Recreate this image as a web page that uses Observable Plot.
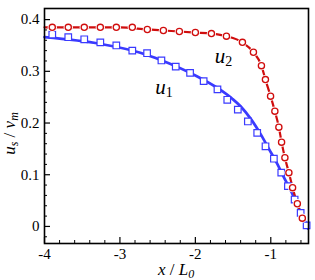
<!DOCTYPE html>
<html><head><meta charset="utf-8">
<script src="https://cdn.jsdelivr.net/npm/d3@7"></script>
<script src="https://cdn.jsdelivr.net/npm/@observablehq/plot@0.6"></script>
<style>
body{margin:0;background:#fff} svg{display:block}
svg text, svg tspan { font-family: "Liberation Serif", "Times New Roman", serif !important; }
</style>
</head><body><div id="chart"></div>
<script>
// tick values
const xTicks = [-4, -3, -2, -1];
const yTicks = [0, 0.1, 0.2, 0.3, 0.4];
const xMinor = [-3.8,-3.6,-3.4,-3.2,-2.8,-2.6,-2.4,-2.2,-1.8,-1.6,-1.4,-1.2,-0.8,-0.6];
const yMinor = [-0.02,0.02,0.04,0.06,0.08,0.12,0.14,0.16,0.18,0.22,0.24,0.26,0.28,0.32,0.34,0.36,0.38];

// u2 (red circles) markers
const u2X = [-3.897,-3.685,-3.473,-3.26,-3.048,-2.836,-2.637,-2.424,-2.212,-2.0,-1.787,-1.588,-1.376,-1.23,-1.124,-1.071,-1.003,-0.946,-0.893,-0.857,-0.813,-0.76,-0.711,-0.648,-0.582];
const u2Y = [0.385,0.385,0.385,0.385,0.385,0.385,0.381,0.379,0.377,0.375,0.373,0.368,0.356,0.337,0.311,0.284,0.252,0.223,0.192,0.163,0.133,0.104,0.075,0.044,0.016];
// u2 fitted line
const u2LineX = [-4,-3.5,-3.0,-2.637,-2.424,-2.212,-2.0,-1.787,-1.588,-1.376,-1.23,-1.124,-1.071,-1.003,-0.946,-0.893,-0.857,-0.813,-0.76,-0.711,-0.648,-0.582,-0.565];
const u2LineY = [0.385,0.385,0.385,0.381,0.379,0.377,0.375,0.373,0.368,0.356,0.337,0.311,0.284,0.252,0.223,0.192,0.163,0.133,0.104,0.075,0.044,0.016,0.008];

// u1 (blue squares) markers
const u1X = [-3.897,-3.685,-3.473,-3.26,-3.048,-2.836,-2.64,-2.45,-2.26,-2.07,-1.89,-1.707,-1.577,-1.437,-1.304,-1.18,-1.07,-0.959,-0.861,-0.773,-0.684,-0.604,-0.525];
const u1Y = [0.371,0.366,0.362,0.356,0.350,0.340,0.335,0.321,0.309,0.297,0.281,0.265,0.245,0.226,0.203,0.181,0.155,0.131,0.104,0.078,0.052,0.026,0.002];
// u1 fitted line
const u1LineX = [-4,-3.26,-2.73,-2.46,-2.0,-1.667,-1.511,-1.398,-1.265,-1.133,-1.025,-0.914,-0.826,-0.737,-0.648,-0.56,-0.507];
const u1LineY = [0.366,0.353,0.336,0.322,0.292,0.264,0.247,0.232,0.208,0.178,0.150,0.121,0.095,0.070,0.041,0.015,-0.004];

// curve labels
const labelMain = ["u", "u"];
const labelSub = ["2", "1"];
const labelX = [-1.62, -2.41];
const labelY = [0.316, 0.256];

const RED = "#d00d0d";
const BLUE = "#3a3aff";

const W = 315, H = 280, mL = 44, mR = 7, mT = 8, mB = 37;
const innerW = W - mL - mR, innerH = H - mT - mB;

const zip = (xs, ys) => xs.map((x, i) => ({x, y: ys[i]}));
const u2 = zip(u2X, u2Y), u2Line = zip(u2LineX, u2LineY);
const u1 = zip(u1X, u1Y), u1Line = zip(u1LineX, u1LineY);

const chart = Plot.plot({
  width: W, height: H,
  marginLeft: mL, marginRight: mR, marginTop: mT, marginBottom: mB,
  style: {fontSize: "15px", background: "white", color: "black"},
  x: {domain: [-4, -0.5]},
  y: {domain: [-0.033, 0.4215]},
  marks: [
    Plot.line(u1Line, {x: "x", y: "y", stroke: BLUE, strokeWidth: 2.7, curve: "monotone-x"}),
    Plot.line(u2Line, {x: "x", y: "y", stroke: RED, strokeWidth: 2.2, curve: "monotone-x"}),
    Plot.dot(u1, {x: "x", y: "y", symbol: "square", r: 3.7, stroke: BLUE, fill: "white", strokeWidth: 1.2}),
    Plot.dot(u2, {x: "x", y: "y", symbol: "circle", r: 4.6, fill: "white", stroke: "none"}),
    Plot.dot(u2, {x: "x", y: "y", symbol: "circle", r: 3.1, stroke: RED, fill: "white", strokeWidth: 1.3}),
    Plot.tickX(xTicks, {x: d => d, insetTop: innerH - 6, stroke: "black", strokeWidth: 1.2}),
    Plot.tickX(xMinor, {x: d => d, insetTop: innerH - 3, stroke: "black", strokeWidth: 1}),
    Plot.tickY(yTicks, {y: d => d, insetRight: innerW - 6, stroke: "black", strokeWidth: 1.2}),
    Plot.tickY(yMinor, {y: d => d, insetRight: innerW - 3, stroke: "black", strokeWidth: 1}),
    Plot.axisX(xTicks, {tickSize: 0, tickPadding: 5, tickFormat: d => String(d), label: null, fontSize: 15}),
    Plot.axisY(yTicks, {tickSize: 0, tickPadding: 5, tickFormat: d => String(d), label: null, fontSize: 15}),
    Plot.frame({stroke: "black", strokeWidth: 1.6})
  ]
});

const svg = d3.select(chart);
const sx = chart.scale("x"), sy = chart.scale("y");

// curve labels
labelMain.forEach((m, i) => {
  const t = svg.append("text")
    .attr("x", sx.apply(labelX[i])).attr("y", sy.apply(labelY[i]))
    .attr("font-size", 21).attr("font-style", "italic").attr("fill", "black");
  t.append("tspan").text(m);
  t.append("tspan").attr("font-size", 14).attr("font-style", "normal").attr("dy", 3).text(labelSub[i]);
});

// x-axis title
const xt = svg.append("text")
  .attr("x", mL + innerW / 2).attr("y", 275)
  .attr("text-anchor", "middle").attr("font-size", 17).attr("fill", "black");
xt.append("tspan").attr("font-style", "italic").text("x");
xt.append("tspan").text(" / ");
xt.append("tspan").attr("font-style", "italic").text("L");
xt.append("tspan").attr("font-style", "italic").attr("font-size", 12).attr("dy", 3).text("0");

// y-axis title
const yt = svg.append("text")
  .attr("transform", `translate(15,${mT + innerH / 2 + 8}) rotate(-90)`)
  .attr("text-anchor", "middle").attr("font-size", 17).attr("fill", "black");
yt.append("tspan").attr("font-style", "italic").text("u");
yt.append("tspan").attr("font-style", "italic").attr("font-size", 12).attr("dy", 3).text("s");
yt.append("tspan").attr("dy", -3).text(" / ");
yt.append("tspan").attr("font-style", "italic").text("v");
yt.append("tspan").attr("font-style", "italic").attr("font-size", 12).attr("dy", 3).text("m");

document.getElementById("chart").append(chart);
</script>
</body></html>
